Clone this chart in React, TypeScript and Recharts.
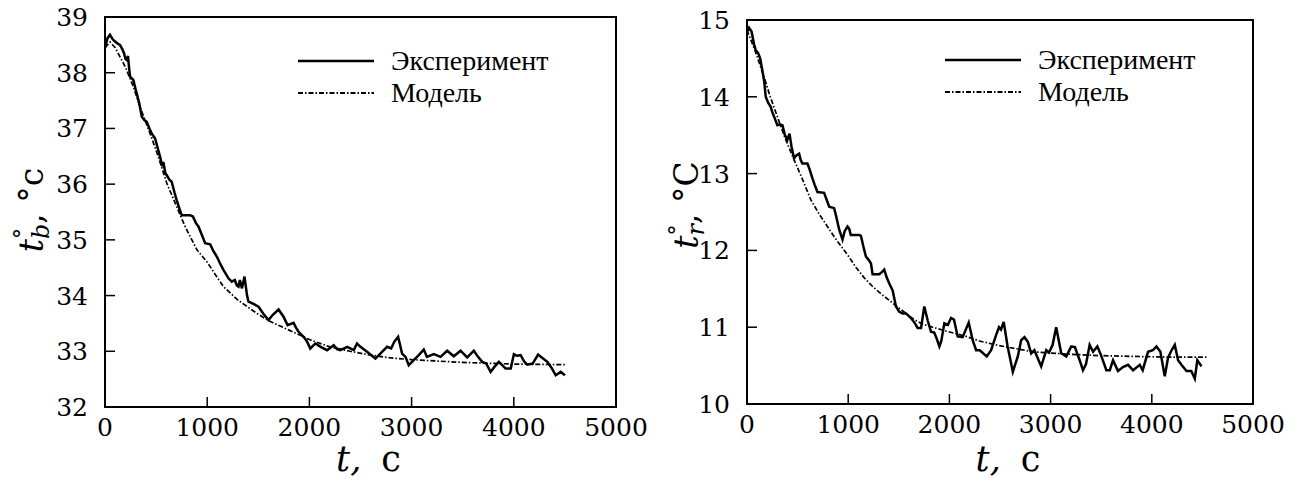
import { LineChart, Line, XAxis, YAxis, ReferenceArea } from "recharts";

// left panel: t_b
const timeExpB = [0, 25, 49, 75, 98, 125, 147, 170, 186, 200, 212, 225, 235, 245, 277, 300, 310, 335, 360, 385, 408, 435, 457, 490, 515, 539, 560, 571, 590, 604, 630, 653, 680, 702, 730, 751, 784, 833, 860, 890, 914, 950, 980, 1029, 1060, 1094, 1125, 1159, 1185, 1208, 1241, 1270, 1290, 1306, 1320, 1340, 1365, 1390, 1404, 1453, 1502, 1551, 1600, 1640, 1698, 1747, 1765, 1787, 1845, 1870, 1894, 1943, 1975, 2009, 2058, 2110, 2173, 2238, 2270, 2303, 2370, 2434, 2466, 2500, 2564, 2646, 2711, 2760, 2800, 2830, 2868, 2907, 2940, 2972, 3021, 3070, 3119, 3150, 3217, 3283, 3348, 3413, 3479, 3544, 3609, 3650, 3691, 3730, 3773, 3810, 3854, 3920, 3970, 4001, 4030, 4067, 4100, 4132, 4185, 4237, 4280, 4328, 4370, 4410, 4459, 4501];
const tempExpB = [38.45, 38.62, 38.68, 38.6, 38.56, 38.52, 38.5, 38.42, 38.35, 38.25, 38.23, 38.3, 38.1, 37.93, 37.87, 37.7, 37.63, 37.45, 37.21, 37.15, 37.12, 37.0, 36.91, 36.82, 36.65, 36.49, 36.32, 36.4, 36.2, 36.16, 36.08, 36.04, 35.85, 35.71, 35.55, 35.44, 35.44, 35.44, 35.42, 35.3, 35.24, 35.08, 34.94, 34.92, 34.8, 34.7, 34.58, 34.46, 34.38, 34.31, 34.25, 34.28, 34.18, 34.16, 34.28, 34.13, 34.34, 34.0, 33.89, 33.85, 33.8, 33.67, 33.56, 33.65, 33.75, 33.62, 33.55, 33.47, 33.51, 33.42, 33.35, 33.26, 33.18, 33.05, 33.14, 33.08, 33.02, 33.11, 33.04, 33.02, 33.08, 33.02, 33.14, 33.08, 32.99, 32.87, 32.99, 33.08, 33.05, 33.17, 33.26, 32.96, 32.9, 32.75, 32.84, 32.93, 33.03, 32.9, 32.95, 32.9, 33.01, 32.91, 33.01, 32.89, 33.01, 32.9, 32.81, 32.78, 32.63, 32.72, 32.81, 32.69, 32.69, 32.95, 32.92, 32.93, 32.82, 32.76, 32.78, 32.94, 32.88, 32.81, 32.7, 32.57, 32.63, 32.57];
const timeModB = [0, 50, 100, 200, 277, 350, 441, 520, 604, 700, 784, 833, 900, 1000, 1100, 1159, 1300, 1486, 1600, 1800, 1943, 2000, 2200, 2400, 2600, 2800, 3000, 3500, 4000, 4500];
const tempModB = [38.45, 38.55, 38.45, 38.1, 37.75, 37.35, 36.91, 36.5, 36.02, 35.6, 35.24, 35.06, 34.82, 34.6, 34.32, 34.16, 33.92, 33.68, 33.55, 33.38, 33.26, 33.21, 33.08, 33.0, 32.93, 32.88, 32.85, 32.8, 32.77, 32.76];

// right panel: t_r
const timeExpR = [0, 20, 45, 70, 86, 110, 130, 151, 170, 185, 210, 234, 250, 265, 280, 300, 325, 350, 375, 399, 420, 440, 465, 490, 515, 530, 547, 597, 620, 646, 670, 696, 762, 790, 812, 861, 880, 911, 944, 965, 993, 1010, 1026, 1109, 1126, 1150, 1175, 1200, 1225, 1241, 1307, 1335, 1356, 1380, 1406, 1439, 1472, 1505, 1538, 1571, 1620, 1660, 1686, 1720, 1752, 1785, 1818, 1850, 1875, 1901, 1920, 1950, 1985, 2016, 2045, 2082, 2131, 2191, 2230, 2264, 2300, 2369, 2412, 2462, 2490, 2510, 2537, 2575, 2627, 2676, 2709, 2742, 2775, 2808, 2840, 2907, 2957, 2985, 3020, 3055, 3105, 3155, 3204, 3240, 3287, 3320, 3350, 3386, 3420, 3462, 3500, 3551, 3585, 3617, 3666, 3715, 3765, 3815, 3881, 3910, 3963, 4010, 4046, 4085, 4128, 4160, 4195, 4227, 4260, 4293, 4343, 4390, 4425, 4450, 4491];
const tempExpR = [14.85, 14.9, 14.85, 14.68, 14.61, 14.57, 14.5, 14.35, 14.2, 14.0, 13.92, 13.87, 13.8, 13.75, 13.7, 13.63, 13.64, 13.63, 13.5, 13.44, 13.52, 13.35, 13.2, 13.24, 13.26, 13.18, 13.13, 13.13, 13.05, 12.94, 12.85, 12.76, 12.75, 12.65, 12.57, 12.55, 12.45, 12.27, 12.14, 12.25, 12.31, 12.28, 12.2, 12.2, 12.19, 12.05, 11.92, 11.88, 11.83, 11.69, 11.69, 11.72, 11.75, 11.65, 11.57, 11.48, 11.27, 11.2, 11.18, 11.18, 11.12, 11.05, 10.99, 10.99, 11.27, 11.09, 10.94, 10.93, 10.85, 10.75, 10.82, 11.05, 11.03, 11.12, 11.1, 10.88, 10.87, 11.06, 10.83, 10.7, 10.7, 10.62, 10.7, 10.9, 11.0, 10.97, 11.07, 10.75, 10.42, 10.62, 10.83, 10.87, 10.81, 10.66, 10.7, 10.49, 10.7, 10.67, 10.77, 11.0, 10.66, 10.62, 10.75, 10.74, 10.57, 10.44, 10.52, 10.77, 10.68, 10.75, 10.63, 10.44, 10.44, 10.57, 10.43, 10.48, 10.51, 10.44, 10.51, 10.44, 10.68, 10.7, 10.75, 10.68, 10.36, 10.6, 10.7, 10.77, 10.57, 10.51, 10.43, 10.43, 10.33, 10.57, 10.49];
const timeModR = [0, 80, 168, 230, 300, 380, 465, 550, 630, 710, 795, 860, 927, 1000, 1076, 1160, 1241, 1320, 1406, 1490, 1571, 1650, 1736, 1835, 1967, 2165, 2297, 2495, 2825, 3155, 3485, 3815, 4200, 4557];
const tempModR = [14.87, 14.6, 14.26, 14.0, 13.74, 13.45, 13.18, 12.92, 12.66, 12.48, 12.31, 12.18, 12.06, 11.93, 11.78, 11.64, 11.53, 11.44, 11.35, 11.26, 11.18, 11.1, 11.04, 11.0, 10.95, 10.88, 10.82, 10.76, 10.68, 10.65, 10.63, 10.62, 10.61, 10.61];

const timeTicks = [0, 1000, 2000, 3000, 4000, 5000];
const ticksB = [32, 33, 34, 35, 36, 37, 38, 39];
const ticksR = [10, 11, 12, 13, 14, 15];
const seriesNames = ["Эксперимент", "Модель"];

const MODEL_DASH = "5 2 1.5 2";
const SERIF = "DejaVu Serif";
const TICK_LEN = 10;
const H = 483;

const toPoints = (ts: number[], vs: number[]) =>
  ts.map((t, i) => ({ t, v: vs[i] }));

// filled frame, drawn once from the first bottom tick
function Frame({ box }: any) {
  const w = box.right - box.left;
  const h = box.bottom - box.top;
  return (
    <g>
      <rect x={box.left - 1} y={box.top - 1} width={2} height={h + 2} fill="black" />
      <rect x={box.right - 1} y={box.top - 1} width={2} height={h + 2} fill="black" />
      <rect x={box.left - 1} y={box.top - 1} width={w + 2} height={2} fill="black" />
      <rect x={box.left - 1} y={box.bottom - 1} width={w + 2} height={2} fill="black" />
    </g>
  );
}

// inward tick marks + labels
function BottomTick({ x, payload, index, box }: any) {
  return (
    <g>
      {index === 0 && <Frame box={box} />}
      <rect x={x - 0.75} y={box.bottom - TICK_LEN} width={1.5} height={TICK_LEN} fill="black" />
      <text x={x} y={box.bottom + 29} textAnchor="middle" fontFamily={SERIF} fontSize={25} fill="black">
        {payload.value}
      </text>
    </g>
  );
}

function TopTick({ x, box }: any) {
  return <rect x={x - 0.75} y={box.top} width={1.5} height={TICK_LEN} fill="black" />;
}

function LeftTick({ y, payload, box }: any) {
  return (
    <g>
      <rect x={box.left} y={y - 0.75} width={TICK_LEN} height={1.5} fill="black" />
      <text x={box.left - 17} y={y + 9} textAnchor="end" fontFamily={SERIF} fontSize={25} fill="black">
        {payload.value}
      </text>
    </g>
  );
}

function RightTick({ y, box }: any) {
  return <rect x={box.right - TICK_LEN} y={y - 0.75} width={TICK_LEN} height={1.5} fill="black" />;
}

function LegendBlock({ left, top }: any) {
  return (
    <div
      style={{
        position: "absolute",
        left,
        top,
        fontFamily: "Liberation Serif",
        fontSize: 28,
        color: "black",
        pointerEvents: "none",
      }}
    >
      {seriesNames.map((name, i) => (
        <div key={name} style={{ display: "flex", alignItems: "center", height: 32 }}>
          <svg width={76} height={32}>
            <line
              x1={0}
              x2={76}
              y1={16}
              y2={16}
              stroke="black"
              strokeWidth={i === 1 ? 2 : 2.5}
              strokeDasharray={i === 1 ? MODEL_DASH : undefined}
            />
          </svg>
          <span style={{ marginLeft: 17, lineHeight: "32px", whiteSpace: "nowrap" }}>{name}</span>
        </div>
      ))}
    </div>
  );
}

// both axis titles, drawn from the bottom axis label slot
function Titles({ box, sub, unit }: any) {
  const cx = (box.left + box.right) / 2 + 8;
  return (
    <g>
      <text x={cx} y={471} textAnchor="middle" fontFamily={SERIF} fontSize={35} fill="black">
        <tspan fontStyle="italic">t,</tspan>
        <tspan dx={20}>c</tspan>
      </text>
      <text
        x={box.titleX}
        y={box.titleY}
        transform={`rotate(-90 ${box.titleX} ${box.titleY})`}
        textAnchor="middle"
        fontFamily={SERIF}
        fontSize={33}
        fill="black"
      >
        <tspan fontStyle="italic">t</tspan>
        <tspan dy={-13} fontSize={22}>°</tspan>
        <tspan dx={-11} dy={19} fontSize={24} fontStyle="italic">{sub}</tspan>
        <tspan dy={-6}>, °{unit}</tspan>
      </text>
    </g>
  );
}

function Panel({ width, box, exp, mod, yDomain, yTicks, sub, unit, legendPos }: any) {
  const frame = { stroke: "black", strokeWidth: 2 };
  return (
    <div style={{ position: "relative", width, height: H }}>
      <LineChart
        width={width}
        height={H}
        margin={{ top: box.top - 1, right: width - box.right - 1, bottom: 0, left: 0 }}
      >
        <XAxis
          dataKey="t"
          type="number"
          domain={[0, 5000]}
          ticks={timeTicks}
          interval={0}
          height={H - box.bottom}
          tickLine={false}
          tick={(p: any) => <BottomTick {...p} box={box} />}
          axisLine={frame}
          allowDataOverflow
          label={{ content: () => <Titles box={box} sub={sub} unit={unit} /> }}
        />
        <XAxis
          xAxisId="top"
          orientation="top"
          type="number"
          domain={[0, 5000]}
          ticks={timeTicks}
          interval={0}
          height={1}
          tickLine={false}
          tick={(p: any) => <TopTick {...p} box={box} />}
          axisLine={frame}
        />
        <YAxis
          type="number"
          domain={yDomain}
          ticks={yTicks}
          interval={0}
          width={box.left}
          tickLine={false}
          tick={(p: any) => <LeftTick {...p} box={box} />}
          axisLine={frame}
          allowDataOverflow
        />
        <YAxis
          yAxisId="right"
          orientation="right"
          type="number"
          domain={yDomain}
          ticks={yTicks}
          interval={0}
          width={1}
          tickLine={false}
          tick={(p: any) => <RightTick {...p} box={box} />}
          axisLine={frame}
        />
        <ReferenceArea
          x1={0}
          x2={5000}
          y1={yDomain[0]}
          y2={yDomain[1]}
          fill="none"
          stroke="black"
          strokeWidth={2}
        />
        <Line
          data={exp}
          dataKey="v"
          name={seriesNames[0]}
          stroke="black"
          strokeWidth={2.5}
          dot={false}
          isAnimationActive={false}
        />
        <Line
          data={mod}
          dataKey="v"
          name={seriesNames[1]}
          stroke="black"
          strokeWidth={1.7}
          strokeDasharray={MODEL_DASH}
          dot={false}
          isAnimationActive={false}
        />
      </LineChart>
      <LegendBlock left={legendPos.left} top={legendPos.top} />
    </div>
  );
}

export default function App() {
  return (
    <div
      style={{
        position: "absolute",
        left: 0,
        top: 0,
        width: 1306,
        height: H,
        background: "#fff",
        display: "flex",
      }}
    >
      <Panel
        width={660}
        box={{ left: 105, top: 17, right: 616, bottom: 407, titleX: 43, titleY: 210 }}
        exp={toPoints(timeExpB, tempExpB)}
        mod={toPoints(timeModB, tempModB)}
        yDomain={[32, 39]}
        yTicks={ticksB}
        sub="b"
        unit="c"
        legendPos={{ left: 298, top: 45 }}
      />
      <Panel
        width={646}
        box={{ left: 87, top: 20, right: 593, bottom: 404, titleX: 38, titleY: 205 }}
        exp={toPoints(timeExpR, tempExpR)}
        mod={toPoints(timeModR, tempModR)}
        yDomain={[10, 15]}
        yTicks={ticksR}
        sub="r"
        unit="C"
        legendPos={{ left: 285, top: 44 }}
      />
    </div>
  );
}
